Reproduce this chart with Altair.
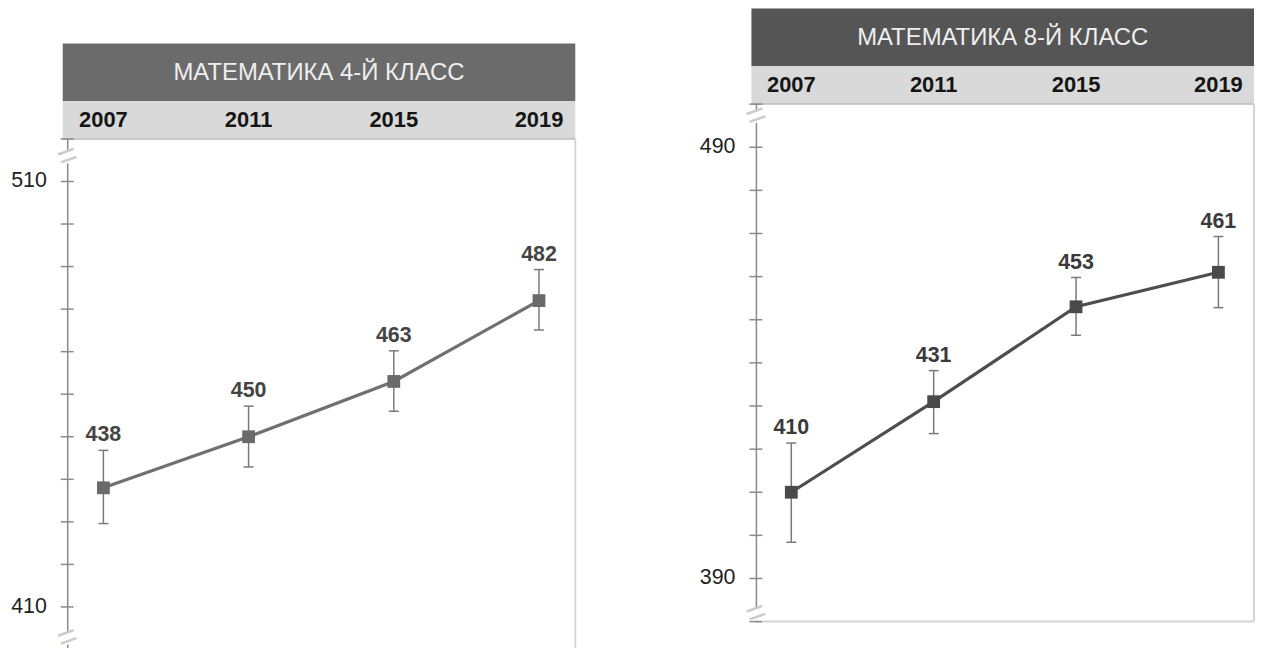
import altair as alt
import pandas as pd

FONT = "Liberation Sans"

years = [2007, 2011, 2015, 2019]
year_domain = [2005.88, 2020.0]

g4_title = "МАТЕМАТИКА 4-Й КЛАСС"
g4_scores = [438, 450, 463, 482]
g4_lower = [429.6, 442.9, 456.0, 475.1]
g4_upper = [446.8, 457.2, 470.2, 489.3]
g4_ticks = [400, 410, 420, 430, 440, 450, 460, 470, 480, 490, 500, 510, 520]
g4_tick_labels = [410, 510]
g4_domain = [400, 520]
g4_breaks = [402.7, 515.8]

g8_title = "МАТЕМАТИКА 8-Й КЛАСС"
g8_scores = [410, 431, 453, 461]
g8_lower = [398.4, 423.6, 446.4, 452.8]
g8_upper = [421.4, 438.2, 459.8, 469.3]
g8_ticks = [380, 390, 400, 410, 420, 430, 440, 450, 460, 470, 480, 490, 500]
g8_tick_labels = [390, 490]
g8_domain = [380, 500]
g8_breaks = [381.8, 497.2]


def panel(title, scores, lower, upper, ticks, tick_labels, domain, breaks,
          width, plot_h, top, header_color, line_color, point_color, label_color):
    height = top + plot_h
    df = pd.DataFrame({
        "year": years, "score": scores, "lower": lower, "upper": upper,
        "label": [str(s) for s in scores],
    })
    tdf = pd.DataFrame({"t": [title]})
    bdf = pd.DataFrame({"value": breaks})
    tickdf = pd.DataFrame({"value": ticks})
    labdf = pd.DataFrame({"value": tick_labels, "text": [str(v) for v in tick_labels]})
    base = alt.Chart(df)
    one = alt.Chart(tdf)

    x = alt.X("year:Q", scale=alt.Scale(domain=year_domain, nice=False, zero=False), axis=None)
    yscale = alt.Scale(domain=domain, range=[height, top], nice=False, zero=False)

    def Y(field):
        return alt.Y(field, scale=yscale, axis=None)

    layers = []
    # header
    layers.append(one.mark_rect(color=header_color).encode(
        x=alt.value(0), x2=alt.value(width), y=alt.value(top - 96), y2=alt.value(top - 38)))
    layers.append(one.mark_text(font=FONT, fontSize=24, color="#eeeeee",
                                baseline="middle", align="center").encode(
        x=alt.value(width / 2), y=alt.value(top - 66), text="t:N"))
    layers.append(one.mark_rect(color="#d9d9d9").encode(
        x=alt.value(0), x2=alt.value(width), y=alt.value(top - 38), y2=alt.value(top)))
    layers.append(one.mark_rule(color="#bdbdbd", strokeWidth=1.5).encode(
        x=alt.value(0), x2=alt.value(width), y=alt.value(top)))
    layers.append(base.mark_text(font=FONT, fontSize=22, fontWeight="bold",
                                 color="#151515", baseline="middle", align="center").encode(
        x=x, y=alt.value(top - 19), text=alt.Text("year:Q", format="d")))
    # frame
    layers.append(one.mark_rule(color="#d4d4d4", strokeWidth=2).encode(
        x=alt.value(width), y=alt.value(top), y2=alt.value(height)))
    layers.append(one.mark_rule(color="#d4d4d4", strokeWidth=2).encode(
        x=alt.value(5), x2=alt.value(width), y=alt.value(height)))
    # axis line, ticks, labels
    layers.append(one.mark_rule(color="#8a8a8a", strokeWidth=1.5).encode(
        x=alt.value(5), y=alt.value(top), y2=alt.value(height)))
    layers.append(alt.Chart(tickdf).mark_tick(orient="horizontal", color="#8a8a8a",
                                              size=13, thickness=1.5, opacity=1).encode(
        x=alt.value(4.5), y=Y("value:Q")))
    layers.append(alt.Chart(labdf).mark_text(font=FONT, fontSize=21.5, color="#222222",
                                             align="right", baseline="middle").encode(
        x=alt.value(-16), y=Y("value:Q"), text="text:N"))
    # axis breaks
    layers.append(alt.Chart(bdf).mark_point(shape="square", filled=True, color="white",
                                            opacity=1, size=180).encode(
        x=alt.value(5), y=Y("value:Q")))
    layers.append(alt.Chart(bdf).mark_text(text="=", angle=340, fontSize=34, font=FONT,
                                           color="#cccccc", baseline="middle",
                                           align="center").encode(
        x=alt.value(5), y=Y("value:Q")))
    # error bars
    layers.append(base.mark_rule(color="#7a7a7a", strokeWidth=1.5).encode(
        x=x, y=Y("lower:Q"), y2="upper:Q"))
    layers.append(base.mark_tick(orient="horizontal", color="#7a7a7a", size=10,
                                 thickness=1.5, opacity=1).encode(x=x, y=Y("lower:Q")))
    layers.append(base.mark_tick(orient="horizontal", color="#7a7a7a", size=10,
                                 thickness=1.5, opacity=1).encode(x=x, y=Y("upper:Q")))
    # line & points
    layers.append(base.mark_line(color=line_color, strokeWidth=3.2).encode(
        x=x, y=Y("score:Q")))
    layers.append(base.mark_point(shape="square", filled=True, size=165, opacity=1,
                                  color=point_color).encode(x=x, y=Y("score:Q")))
    # value labels
    layers.append(base.mark_text(font=FONT, fontSize=21.5, fontWeight="bold",
                                 color=label_color, baseline="alphabetic",
                                 align="center", dy=-9).encode(
        x=x, y=Y("upper:Q"), text="label:N"))

    return alt.layer(*layers).properties(width=width, height=height)


left = panel(g4_title, g4_scores, g4_lower, g4_upper, g4_ticks, g4_tick_labels, g4_domain,
             g4_breaks, 515, 513, 35, "#6b6b6b", "#707070", "#6a6a6a", "#444444")
right = panel(g8_title, g8_scores, g8_lower, g8_upper, g8_ticks, g8_tick_labels, g8_domain,
              g8_breaks, 505, 520, 0, "#555555", "#4e4e4e", "#4a4a4a", "#3a3a3a")

chart = alt.hconcat(left, right, spacing=122).properties(
    padding={"left": 2, "top": -2, "right": 0, "bottom": 0},
    background="white",
).configure_view(stroke="transparent")

chart.save("out.html", embed_options={"renderer": "svg", "actions": False})
